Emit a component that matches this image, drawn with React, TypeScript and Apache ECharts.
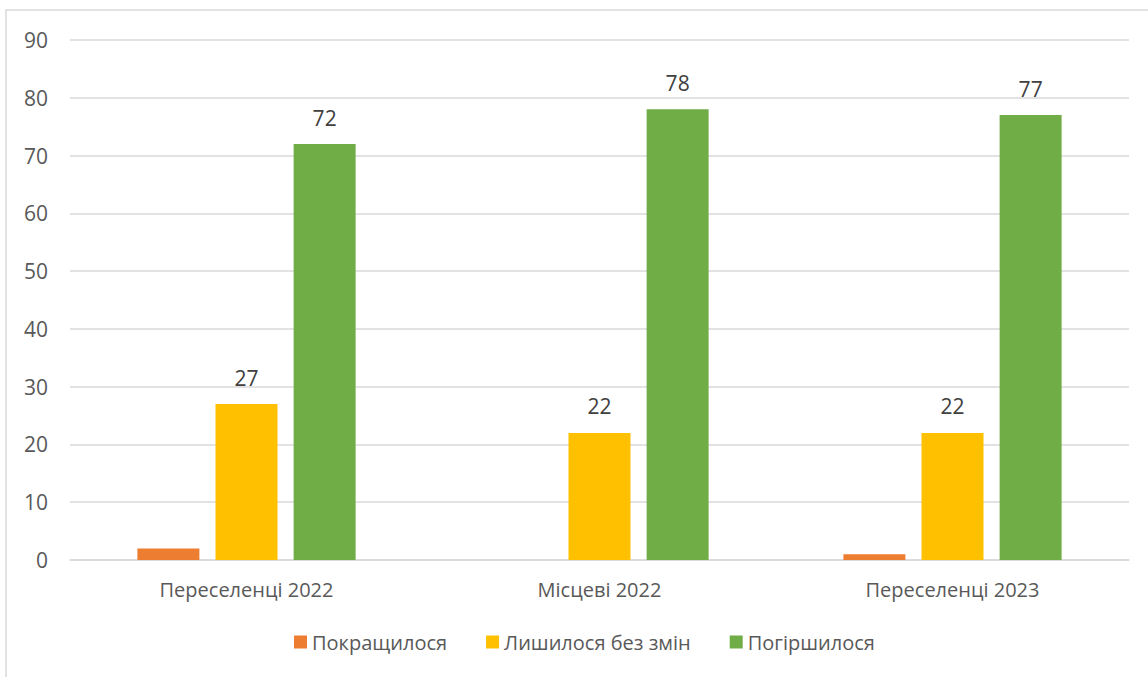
import React, { useEffect, useRef } from "react";
import * as echarts from "echarts";

const categories = ["Переселенці 2022", "Місцеві 2022", "Переселенці 2023"];
const improved = [2, 0, 1];
const unchanged = [27, 22, 22];
const worsened = [72, 78, 77];
const seriesNames = ["Покращилося", "Лишилося без змін", "Погіршилося"];
const colors = ["#ED7D31", "#FFC000", "#70AD47"];

const FONT = "'Open Sans', 'Noto Sans', sans-serif";
const TEXT = "#595959";
const FS = 20;
const FS_NUM = 21;

export default function App() {
  const ref = useRef<HTMLDivElement>(null);
  useEffect(() => {
    if (!ref.current) return;
    const chart = echarts.init(ref.current, undefined, { renderer: "svg" });
    const mk = (name: string, data: number[], color: string, label: boolean) => ({
      name,
      type: "bar",
      data,
      barWidth: 62,
      barGap: "26%",
      itemStyle: { color },
      label: {
        show: label,
        position: "top",
        distance: 16,
        color: "#404040",
        fontSize: FS_NUM,
        fontFamily: FONT,
      },
    });
    chart.setOption({
      animation: false,
      textStyle: { fontFamily: FONT },
      graphic: [
        {
          type: "rect",
          shape: { x: 6, y: 10, width: 1160, height: 700 },
          style: { fill: "none", stroke: "#d9d9d9", lineWidth: 1.5 },
          silent: true,
        },
      ],
      grid: { left: 70, right: 19, top: 40, bottom: 117, containLabel: false },
      legend: {
        bottom: 20,
        left: 289,
        itemWidth: 13,
        itemHeight: 13,
        itemGap: 39,
        icon: "rect",
        textStyle: { color: TEXT, fontSize: FS, fontFamily: FONT },
        data: seriesNames,
      },
      xAxis: {
        type: "category",
        data: categories,
        axisLine: { lineStyle: { color: "#d9d9d9", width: 1.5 } },
        axisTick: { show: false },
        axisLabel: { color: TEXT, fontSize: FS, fontFamily: FONT, margin: 19 },
      },
      yAxis: {
        type: "value",
        min: 0,
        max: 90,
        interval: 10,
        axisLine: { show: false },
        axisTick: { show: false },
        splitLine: { lineStyle: { color: "#d9d9d9", width: 1.5 } },
        axisLabel: { color: TEXT, fontSize: FS_NUM, fontFamily: FONT, margin: 22 },
      },
      series: [
        mk(seriesNames[0], improved, colors[0], false),
        mk(seriesNames[1], unchanged, colors[1], true),
        mk(seriesNames[2], worsened, colors[2], true),
      ],
    });
    return () => chart.dispose();
  }, []);
  return <div ref={ref} style={{ width: 1148, height: 677, position: "absolute", left: 0, top: 0 }} />;
}
